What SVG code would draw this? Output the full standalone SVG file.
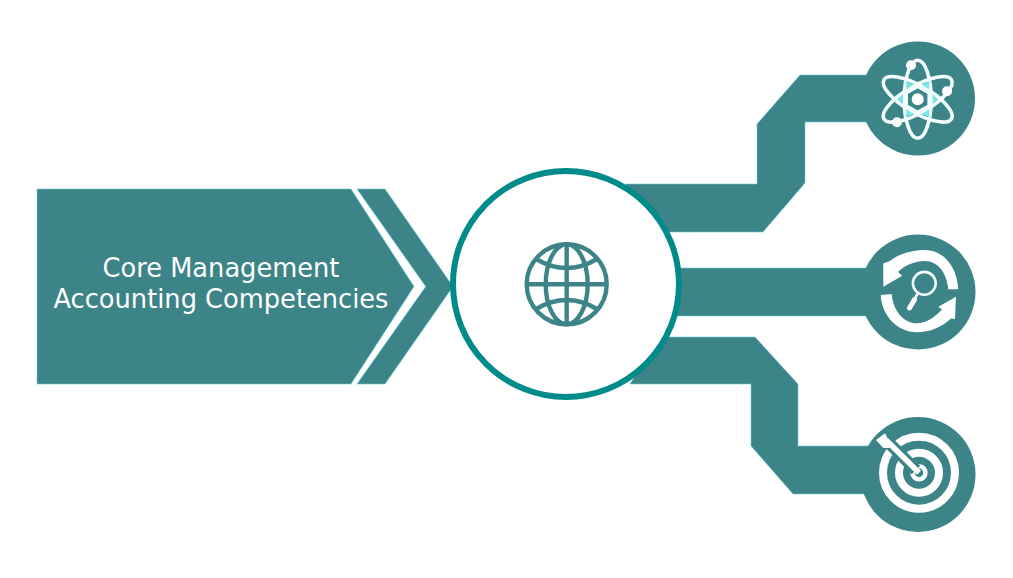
<svg xmlns="http://www.w3.org/2000/svg" width="1013" height="578" viewBox="0 0 1013 578">
<style>
.f{fill:#3d8489;stroke:#66d2d6;stroke-width:.6}
.b{fill:#3d8489}
.w{fill:none;stroke:#f2fdfd;stroke-width:3.6}
.wf{fill:#fff}
.g{fill:none;stroke:#3d8489;stroke-width:4.4}
.t{font-family:"DejaVu Sans",Verdana,sans-serif;font-size:25.7px;fill:#fff;text-anchor:middle}
</style>
<rect width="1013" height="578" fill="#fff"/>
<g id="connectors">
<path class="f" d="M625 184H757V124L800 75H875V122H805V183L763 232H660Z"/>
<path class="f" d="M670 268H875V316H670Z"/>
<path class="f" d="M660 337H755L798 384V446H875V494H793L751 446V384H630Z"/>
</g>
<g id="source">
<path class="f" d="M37 189H351L414 286.5L351 384H37Z"/>
<path class="f" d="M357 189H385L453 286.5L385 384H357L425.7 286.5Z"/>
<text class="t" x="221" y="277">Core Management</text>
<text class="t" x="221" y="308">Accounting Competencies</text>
</g>
<g id="hub">
<circle cx="566" cy="284" r="113" fill="#fff" stroke="#008b8b" stroke-width="6"/>
<circle class="g" cx="566.7" cy="284.3" r="40"/>
<ellipse class="g" cx="566.7" cy="284.3" rx="21" ry="40"/>
<path class="g" d="M566.7 244V324.6M526.5 284.3H607M536 259Q566.7 277 597 259M536 309Q566.7 291 597 309"/>
</g>
<g id="atom">
<circle class="b" cx="918" cy="98.5" r="57"/>
<g transform="translate(917.7 99.3)">
<ellipse class="w" rx="13.5" ry="39"/>
<ellipse class="w" rx="13.5" ry="39" transform="rotate(60)"/>
<ellipse class="w" rx="13.5" ry="39" transform="rotate(-60)"/>
<path fill="#7ce6e6" d="M-12 -18L-4 -15L-11 -10ZM12 -18L4 -15L11 -10ZM-20 0L-15 -5L-15 5ZM20 0L15 -5L15 5ZM-12 18L-4 15L-11 10ZM12 18L4 15L11 10Z"/>
<path style="fill:#3d8489;stroke:#f2fdfd;stroke-width:2.6" d="M0 -12.5L11 -6.3V6.3L0 12.5L-11 6.3V-6.3Z"/>
<circle class="wf" r="6"/>
<circle class="wf" cx="-6.7" cy="-34" r="5"/>
<circle class="wf" cx="29.3" cy="-8" r="5"/>
<circle class="wf" cx="-20.7" cy="23" r="5"/>
</g>
</g>
<g id="review">
<circle class="b" cx="918" cy="292" r="57.5"/>
<path class="wf" d="M958.3 289.300C957 266 943 250 925 250C910 250 897 255 889 261.500L883.300 263.300V286.700L902.300 275.700L898 272C905 265 915 261 925 261C938 261 947 273 948.300 289.300Z"/>
<path class="wf" d="M880.700 295C881.500 315 897 332.300 917 332.300C930 332.300 942 327 951 318.500L955 319L956 296.700L938.300 306.700L942 309.500C935 317 926 323.300 917 323.300C903 323.300 893 310 891.700 294Z"/>
<circle cx="924.300" cy="283.300" r="11.400" fill="none" stroke="#f2fdfd" stroke-width="2.600"/>
<path d="M918 293L914 300" stroke="#fff" stroke-width="2.600" fill="none"/>
<path d="M914.500 299.500L909.500 308" stroke="#fff" stroke-width="5" fill="none" stroke-linecap="round"/>
</g>
<g id="target">
<circle class="b" cx="918" cy="474.500" r="57.500"/>
<circle cx="919" cy="472.700" r="36" fill="none" stroke="#fff" stroke-width="8"/>
<circle cx="919" cy="472.700" r="20" fill="none" stroke="#fff" stroke-width="8"/>
<circle cx="919" cy="472.700" r="6.500" fill="none" stroke="#fff" stroke-width="4.500"/>
<path d="M884 438L916 470" stroke="#3d8489" stroke-width="12" fill="none"/>
<path d="M886 440L919 472.700" stroke="#fff" stroke-width="5.500" fill="none"/>
<path class="wf" d="M876 440L885 433.300L888.500 440L893 448L883.300 448Z"/>
</g>
</svg>
